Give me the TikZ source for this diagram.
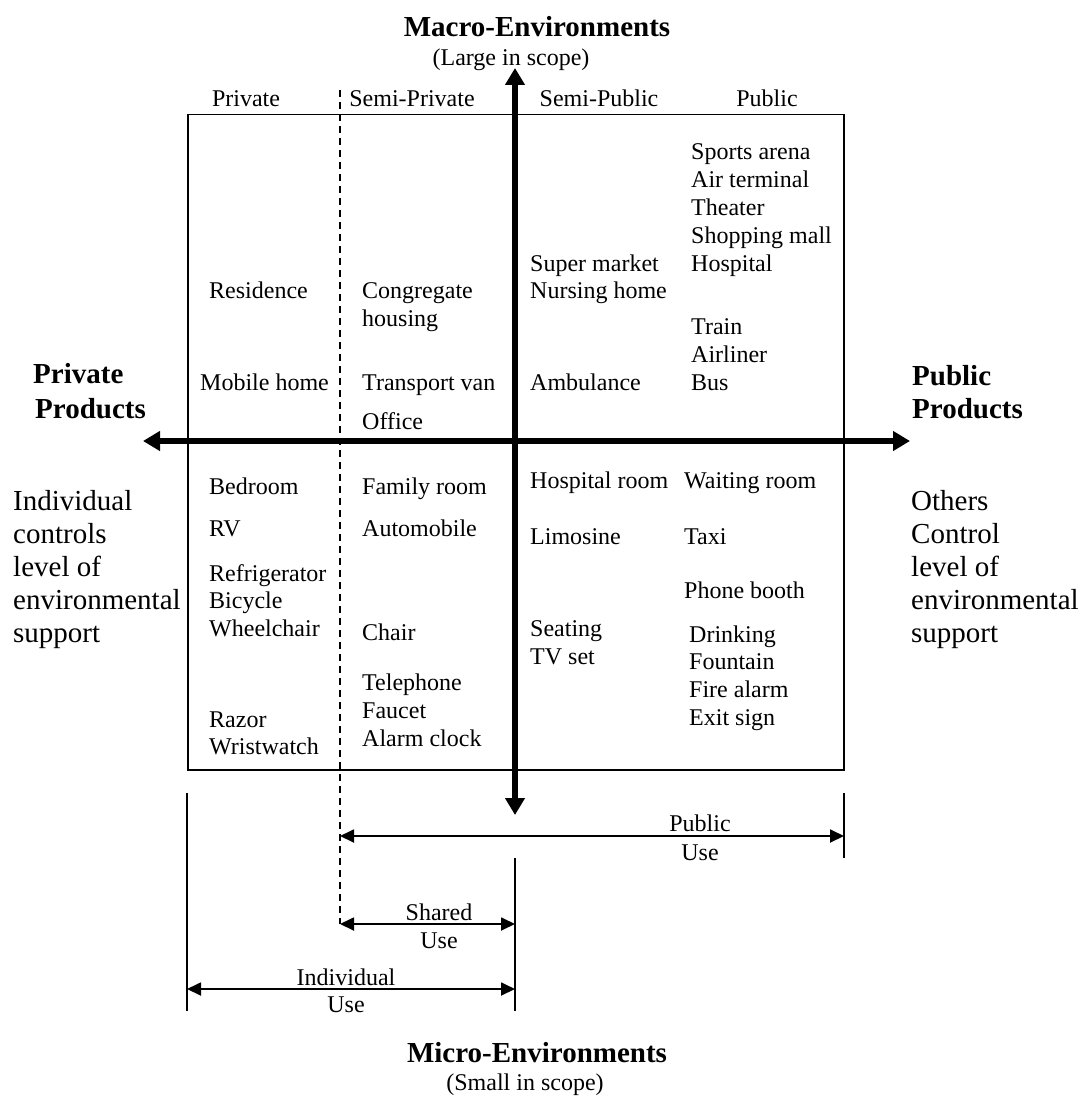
\documentclass[tikz,border=0pt]{standalone}
\usepackage{fontspec}
\setmainfont{Liberation Serif}
\usetikzlibrary{arrows.meta}
\begin{document}
\begin{tikzpicture}[x=1pt,y=-1pt,
  itm/.style={anchor=base west,inner sep=0pt,font=\fontsize{24}{28}\selectfont},
  ctr/.style={anchor=base,inner sep=0pt,font=\fontsize{24}{28}\selectfont},
  side/.style={anchor=base west,inner sep=0pt,font=\fontsize{29}{33}\selectfont},
  sideb/.style={anchor=base west,inner sep=0pt,font=\fontsize{29}{33}\selectfont\bfseries},
  ttl/.style={anchor=base,inner sep=0pt,font=\fontsize{29}{33}\selectfont\bfseries},
  bigarrow/.style={line width=6pt,{Triangle[length=17pt,width=19pt]}-{Triangle[length=17pt,width=19pt]}},
  thinarrow/.style={line width=1.8pt,{Triangle[length=14pt,width=13pt]}-{Triangle[length=14pt,width=13pt]}},
  tickline/.style={line width=1.5pt},
  dashline/.style={line width=2pt,dash pattern=on 7pt off 5pt}
]
\useasboundingbox (0,0) rectangle (1086,1097);

% frame
\node[draw,line width=1.5pt,minimum width=656pt,minimum height=655pt,inner sep=0pt,anchor=north west] (box) at (187,114) {};

% coordinates
\coordinate (dtop) at (340,90);
\coordinate (dbot) at (340,924);
\coordinate (hl) at (143,441);
\coordinate (hr) at (910,441);
\coordinate (vt) at (515,68);
\coordinate (vb) at (515,815);
\coordinate (lt) at (187,793);
\coordinate (lb) at (187,1011);
\coordinate (rt) at (844,793);
\coordinate (rb) at (844,858);
\coordinate (ct) at (515,858);
\coordinate (cb) at (515,1011);
\coordinate (pu1) at (340,836);
\coordinate (pu2) at (844,836);
\coordinate (su1) at (340,924);
\coordinate (su2) at (515,924);
\coordinate (iu1) at (187,989);
\coordinate (iu2) at (515,989);

\draw[dashline] (dtop) -- (dbot);
\draw[bigarrow] (hl) -- (hr);
\draw[bigarrow] (vt) -- (vb);
\draw[tickline] (lt) -- (lb);
\draw[tickline] (rt) -- (rb);
\draw[tickline] (ct) -- (cb);
\draw[thinarrow] (pu1) -- (pu2);
\draw[thinarrow] (su1) -- (su2);
\draw[thinarrow] (iu1) -- (iu2);

% titles
\node[ttl] (macro) at (537,37) {Macro-Environments};
\node[ctr] (large) at (511,66) {(Large in scope)};
\node[ttl] (micro) at (537,1062) {Micro-Environments};
\node[ctr] (small) at (525,1090) {(Small in scope)};

% column labels
\node[ctr] (cPriv) at (246,107) {Private};
\node[ctr] (cSPriv) at (412,107) {Semi-Private};
\node[ctr] (cSPub) at (599,107) {Semi-Public};
\node[ctr] (cPub) at (767,107) {Public};

% side labels
\node[sideb] (lp1) at (33,383) {Private};
\node[sideb] (lp2) at (35,418) {Products};
\node[sideb] (rp1) at (912,385) {Public};
\node[sideb] (rp2) at (912,418) {Products};
\node[side] (l1) at (13,510) {Individual};
\node[side] (l2) at (13,543) {controls};
\node[side] (l3) at (13,576) {level of};
\node[side] (l4) at (13,609) {environmental};
\node[side] (l5) at (13,642) {support};
\node[side] (r1) at (911,510) {Others};
\node[side] (r2) at (911,543) {Control};
\node[side] (r3) at (911,576) {level of};
\node[side] (r4) at (911,609) {environmental};
\node[side] (r5) at (911,642) {support};

% private column
\node[itm] (a1) at (209,298) {Residence};
\node[itm] (a2) at (200,390) {Mobile home};
\node[itm] (a3) at (209,494) {Bedroom};
\node[itm] (a4) at (209,536) {RV};
\node[itm] (a5) at (209,581) {Refrigerator};
\node[itm] (a6) at (209,608) {Bicycle};
\node[itm] (a7) at (209,636) {Wheelchair};
\node[itm] (a8) at (209,727) {Razor};
\node[itm] (a9) at (209,754) {Wristwatch};

% semi-private column
\node[itm] (b1) at (362,298) {Congregate};
\node[itm] (b2) at (362,326) {housing};
\node[itm] (b3) at (362,390) {Transport van};
\node[itm] (b4) at (362,429) {Office};
\node[itm] (b5) at (362,494) {Family room};
\node[itm] (b6) at (362,536) {Automobile};
\node[itm] (b7) at (362,640) {Chair};
\node[itm] (b8) at (362,690) {Telephone};
\node[itm] (b9) at (362,718) {Faucet};
\node[itm] (b10) at (362,746) {Alarm clock};

% semi-public column
\node[itm] (c1) at (530,271) {Super market};
\node[itm] (c2) at (530,298) {Nursing home};
\node[itm] (c3) at (530,390) {Ambulance};
\node[itm] (c4) at (530,488) {Hospital room};
\node[itm] (c5) at (530,544) {Limosine};
\node[itm] (c6) at (530,636) {Seating};
\node[itm] (c7) at (530,664) {TV set};

% public column
\node[itm] (d1) at (691,159) {Sports arena};
\node[itm] (d2) at (691,187) {Air terminal};
\node[itm] (d3) at (691,215) {Theater};
\node[itm] (d4) at (691,243) {Shopping mall};
\node[itm] (d5) at (691,271) {Hospital};
\node[itm] (d6) at (691,334) {Train};
\node[itm] (d7) at (691,362) {Airliner};
\node[itm] (d8) at (691,390) {Bus};
\node[itm] (d9) at (684,488) {Waiting room};
\node[itm] (d10) at (684,544) {Taxi};
\node[itm] (d11) at (684,598) {Phone booth};
\node[itm] (d12) at (689,642) {Drinking};
\node[itm] (d13) at (689,669) {Fountain};
\node[itm] (d14) at (689,697) {Fire alarm};
\node[itm] (d15) at (689,725) {Exit sign};

% use labels
\node[ctr] (pub1) at (700,831) {Public};
\node[ctr] (pub2) at (700,860) {Use};
\node[ctr] (sh1) at (439,920) {Shared};
\node[ctr] (sh2) at (439,948) {Use};
\node[ctr] (in1) at (346,985) {Individual};
\node[ctr] (in2) at (346,1012) {Use};
\end{tikzpicture}
\end{document}
